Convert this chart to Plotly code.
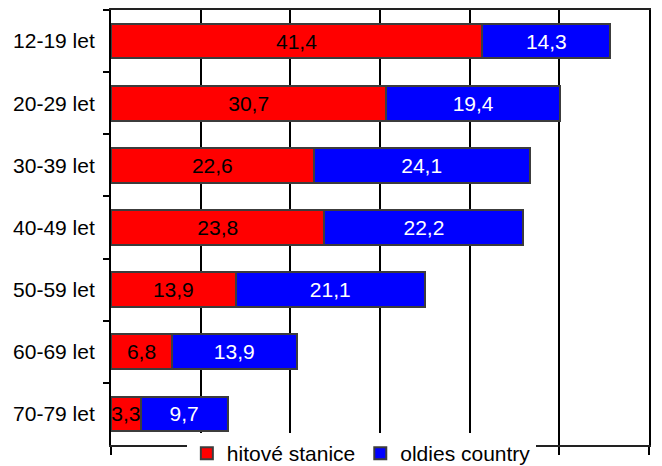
import plotly.graph_objects as go

# Age groups and listener shares (%) per station type
age_groups = ["12-19 let", "20-29 let", "30-39 let", "40-49 let",
              "50-59 let", "60-69 let", "70-79 let"]
hitove_stanice = [41.4, 30.7, 22.6, 23.8, 13.9, 6.8, 3.3]
oldies_country = [14.3, 19.4, 24.1, 22.2, 21.1, 13.9, 9.7]
x_ticks = [0, 10, 20, 30, 40, 50, 60]

FONT = "Liberation Sans, Arial, sans-serif"
EDGE = "#3c3c3c"

fig = go.Figure()
fig.add_trace(go.Bar(
    name="hitové stanice", y=age_groups, x=hitove_stanice, orientation="h",
    marker=dict(color="#ff0000", line=dict(color=EDGE, width=2)),
    texttemplate="%{x:.1f}", textposition="inside", insidetextanchor="middle",
    textangle=0, textfont=dict(family=FONT, size=21, color="black"),
))
fig.add_trace(go.Bar(
    name="oldies country", y=age_groups, x=oldies_country, orientation="h",
    marker=dict(color="#0000ff", line=dict(color=EDGE, width=2)),
    texttemplate="%{x:.1f}", textposition="inside", insidetextanchor="middle",
    textangle=0, textfont=dict(family=FONT, size=21, color="white"),
))

fig.update_layout(
    width=662, height=466,
    margin=dict(l=111, r=13, t=10, b=21, autoexpand=False),
    barmode="stack", bargap=0.44,
    separators=",.",
    paper_bgcolor="white", plot_bgcolor="white",
    font=dict(family=FONT, size=21, color="black"),
    uniformtext=dict(minsize=21, mode="show"),
    showlegend=True,
    legend=dict(
        orientation="h", x=0.141, xanchor="left", y=0.0276, yanchor="top",
        bgcolor="white", borderwidth=0, font=dict(family=FONT, size=21),
        itemwidth=30, tracegroupgap=0, traceorder="normal",
    ),
    xaxis=dict(
        range=[0, 60], tickvals=x_ticks, showticklabels=False,
        ticks="outside", ticklen=8, tickwidth=2, tickcolor="black",
        showgrid=True, gridcolor="black", gridwidth=2,
        showline=True, linecolor="#222222", linewidth=2, mirror=True,
        zeroline=False, fixedrange=True,
    ),
    yaxis=dict(
        categoryorder="array", categoryarray=age_groups, autorange="reversed",
        ticks="outside", ticklen=6, tickwidth=2, tickcolor="black",
        tickson="boundaries", ticklabelstandoff=10,
        showline=True, linecolor="black", linewidth=2, mirror=True,
        showgrid=False, zeroline=False, fixedrange=True,
        tickfont=dict(family=FONT, size=21, color="black"),
    ),
)

fig.write_html("out.html")
